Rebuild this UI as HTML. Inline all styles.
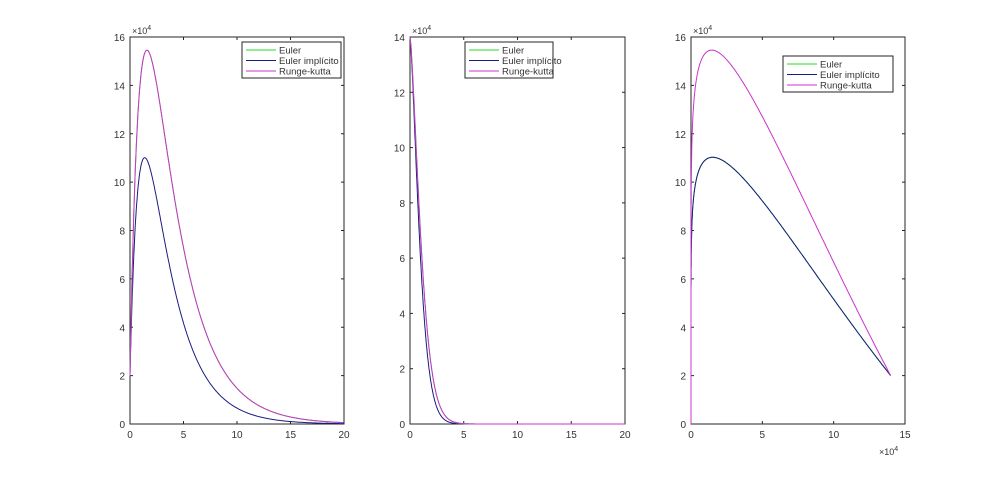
<!DOCTYPE html>
<html><head><meta charset="utf-8"><style>
body{margin:0;background:#fff;}
svg{display:block;font-family:"Liberation Sans",sans-serif;}
text{font-size:10px;fill:#333;}
</style></head><body>
<svg id="s" width="1000" height="477" xmlns="http://www.w3.org/2000/svg"></svg>
<script>
const s=document.getElementById('s');
let h='';
const T=37,B=424;
function axes(L,R,xmax,xstep,ymax,ystep,xexp){
  h+=`<rect x="${L}" y="${T}" width="${R-L}" height="${B-T}" fill="#fff" stroke="#262626" stroke-width="1"/>`;
  for(let v=0;v<=xmax+1e-9;v+=xstep){let x=L+(R-L)*v/xmax;
    h+=`<line x1="${x}" y1="${B}" x2="${x}" y2="${B-3}" stroke="#262626"/><line x1="${x}" y1="${T}" x2="${x}" y2="${T+3}" stroke="#262626"/>`;
    h+=`<text x="${x}" y="${B+14}" text-anchor="middle">${v}</text>`;}
  for(let v=0;v<=ymax+1e-9;v+=ystep){let y=B-(B-T)*v/ymax;
    h+=`<line x1="${L}" y1="${y}" x2="${L+3}" y2="${y}" stroke="#262626"/><line x1="${R}" y1="${y}" x2="${R-3}" y2="${y}" stroke="#262626"/>`;
    h+=`<text x="${L-5}" y="${y+4}" text-anchor="end">${v}</text>`;}
  h+=`<text x="${L+2}" y="${T-3}" style="font-size:9px">×10<tspan dy="-4" style="font-size:7px">4</tspan></text>`;
  if(xexp) h+=`<text x="${R-26}" y="${B+31}" style="font-size:9px">×10<tspan dy="-4" style="font-size:7px">4</tspan></text>`;
}
function path(L,R,xmax,ymax,pts,col){
  let d=pts.map((p,i)=>(i?'L':'M')+(L+(R-L)*p[0]/xmax).toFixed(1)+','+(B-(B-T)*p[1]/ymax).toFixed(1)).join('');
  h+=`<path d="${d}" fill="none" stroke="${col}" stroke-width="1"/>`;
}
function legend(x,y,w){
  h+=`<rect x="${x}" y="${y}" width="${w}" height="36" fill="#fff" stroke="#262626"/>`;
  const c=['#22dd22','#1a1a80','#cc33cc'],n=['Euler','Euler implícito','Runge-kutta'];
  for(let i=0;i<3;i++){let yy=y+8+i*10.5;
    h+=`<line x1="${x+4}" y1="${yy}" x2="${x+34}" y2="${yy}" stroke="${c[i]}"/><text x="${x+37}" y="${yy+3.5}" style="font-size:9.5px">${n[i]}</text>`;}
}
// plot 1
axes(130,344,20,5,16,2,false);
let f1=t=>2*Math.exp(-t/0.9)+27.8*(Math.exp(-t/2.67)-Math.exp(-t/0.9));
let f2=t=>2*Math.exp(-t/1.0)+38.4*(Math.exp(-t/3.07)-Math.exp(-t/1.0));
let a=[],b=[];for(let t=0;t<=20;t+=0.05){a.push([t,f1(t)]);b.push([t,f2(t)]);}
path(130,344,20,16,a,'#1a1a80');path(130,344,20,16,b,'#22dd22');path(130,344,20,16,b,'#cc33cc');
legend(242,42,99);
// plot 2
axes(410,625,20,5,14,2,false);
let g1=t=>14*Math.exp(-Math.pow(t/1.1,1.4)),g2=t=>14*Math.exp(-Math.pow(t/1.25,1.4));
a=[];b=[];for(let t=0;t<=20;t+=0.03){a.push([t,g1(t)]);b.push([t,g2(t)]);}
path(410,625,20,14,a,'#1a1a80');path(410,625,20,14,b,'#22dd22');path(410,625,20,14,b,'#cc33cc');
legend(465,42,88);
// plot 3
axes(691,905,15,5,16,2,true);
a=[];b=[];
for(let i=0;i<=400;i++){let u=Math.pow(i/400,2);let x=14*u;
  let g=Math.pow(u,0.129)*(1-u);
  a.push([x,2*u+16.6*g*(1-0.25*u)]);b.push([x,2*u+23.4*g*(1-0.25*u)]);}
path(691,905,15,16,a,'#22dd22');path(691,905,15,16,a,'#1a1a80');path(691,905,15,16,b,'#cc33cc');
legend(783,56,110);
s.innerHTML=h;
</script>
</body></html>
